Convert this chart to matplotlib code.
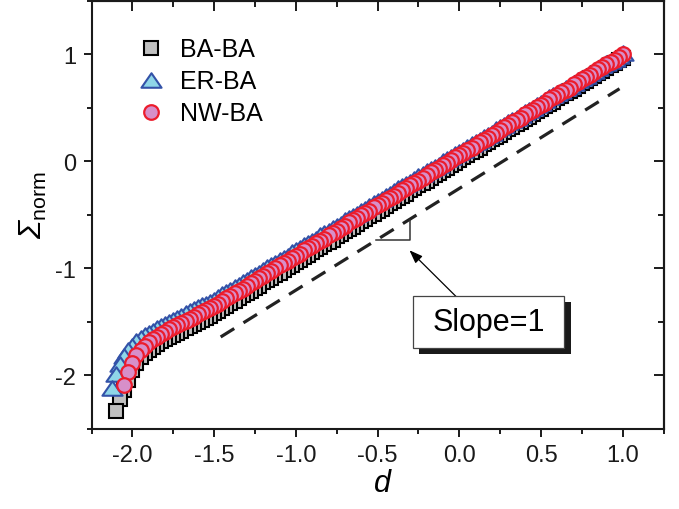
import matplotlib
matplotlib.use('Agg')
import matplotlib.pyplot as plt
import numpy as np
from matplotlib.path import Path
from matplotlib.patches import Rectangle
from matplotlib.ticker import MultipleLocator

plt.rcParams['font.family'] = ['Liberation Sans', 'DejaVu Sans']
plt.rcParams['mathtext.fontset'] = 'custom'
plt.rcParams['mathtext.rm'] = 'Liberation Sans'
plt.rcParams['mathtext.it'] = 'Liberation Sans:italic'
# mathtext forces Greek capitals upright in \mathit, so use sf slot for italic
plt.rcParams['mathtext.sf'] = 'Liberation Sans:italic'

# d sampled every 0.025 for each curve (start differs per series)
d_ba = np.round(np.arange(-2.1, 1.0001, 0.025), 3)
d_er = np.round(np.arange(-2.125, 1.0001, 0.025), 3)
d_nw = np.round(np.arange(-2.05, 1.0001, 0.025), 3)

sig_ba = [-2.33, -2.22, -2.14, -2.04, -1.95, -1.88, -1.83, -1.79,
          -1.76, -1.73, -1.71, -1.68, -1.66, -1.64, -1.62, -1.60, -1.58,
          -1.56, -1.54, -1.52, -1.50, -1.48, -1.46, -1.44, -1.42,
          -1.40, -1.37, -1.35, -1.32, -1.30, -1.28, -1.25, -1.23, -1.21, -1.18,
          -1.16, -1.13, -1.11, -1.09, -1.06, -1.04, -1.01, -0.99, -0.97, -0.94,
          -0.92, -0.89, -0.87, -0.85, -0.82, -0.80, -0.77, -0.75, -0.73, -0.70,
          -0.68, -0.65, -0.63, -0.61, -0.58, -0.56, -0.54, -0.51, -0.49, -0.46,
          -0.44, -0.42, -0.39, -0.37, -0.34, -0.32, -0.30, -0.27, -0.25, -0.22,
          -0.20, -0.18, -0.15, -0.13, -0.11, -0.08, -0.06, -0.03, -0.01, 0.01,
          0.04, 0.06, 0.09, 0.11, 0.13, 0.16, 0.18, 0.21, 0.23, 0.25,
          0.28, 0.30, 0.32, 0.35, 0.37, 0.40, 0.42, 0.44, 0.47, 0.49,
          0.52, 0.54, 0.56, 0.59, 0.61, 0.64, 0.66, 0.68, 0.71, 0.73,
          0.75, 0.78, 0.80, 0.83, 0.85, 0.87, 0.90, 0.92, 0.95, 0.97]

sig_er = [-2.12, -1.99, -1.89, -1.82, -1.76, -1.72, -1.68, -1.65, -1.62,
          -1.60, -1.58, -1.56, -1.54, -1.52, -1.50, -1.48, -1.46, -1.44,
          -1.42, -1.40, -1.38, -1.36, -1.34, -1.33, -1.31,
          -1.29, -1.27, -1.24, -1.22, -1.20, -1.17, -1.15, -1.13, -1.11, -1.08,
          -1.06, -1.04, -1.01, -0.99, -0.97, -0.95, -0.92, -0.90, -0.88, -0.85,
          -0.83, -0.81, -0.78, -0.76, -0.74, -0.72, -0.69, -0.67, -0.65, -0.62,
          -0.60, -0.58, -0.55, -0.53, -0.51, -0.49, -0.46, -0.44, -0.42, -0.39,
          -0.37, -0.35, -0.32, -0.30, -0.28, -0.25, -0.23, -0.21, -0.19, -0.16,
          -0.14, -0.12, -0.09, -0.07, -0.05, -0.03, 0.00, 0.02, 0.04, 0.07,
          0.09, 0.11, 0.14, 0.16, 0.18, 0.20, 0.23, 0.25, 0.27, 0.30,
          0.32, 0.34, 0.37, 0.39, 0.41, 0.43, 0.46, 0.48, 0.50, 0.53,
          0.55, 0.57, 0.60, 0.62, 0.64, 0.66, 0.69, 0.71, 0.73, 0.76,
          0.78, 0.80, 0.83, 0.85, 0.87, 0.90, 0.92, 0.94, 0.96, 0.99, 1.01]

sig_nw = [-2.09, -1.97, -1.88, -1.81, -1.76, -1.72, -1.69, -1.66, -1.64,
          -1.61, -1.59, -1.57, -1.55, -1.53, -1.51, -1.49, -1.47, -1.45,
          -1.43, -1.41, -1.39, -1.37, -1.35,
          -1.33, -1.30, -1.28, -1.26, -1.23, -1.21, -1.19, -1.16, -1.14, -1.12,
          -1.09, -1.07, -1.04, -1.02, -1.00, -0.97, -0.95, -0.93, -0.90, -0.88,
          -0.86, -0.83, -0.81, -0.79, -0.76, -0.74, -0.72, -0.69, -0.67, -0.65,
          -0.62, -0.60, -0.57, -0.55, -0.53, -0.50, -0.48, -0.46, -0.43, -0.41,
          -0.39, -0.36, -0.34, -0.32, -0.29, -0.27, -0.25, -0.22, -0.20, -0.18,
          -0.15, -0.13, -0.10, -0.08, -0.06, -0.03, -0.01, 0.01, 0.04, 0.06,
          0.08, 0.11, 0.13, 0.15, 0.18, 0.20, 0.22, 0.25, 0.27, 0.29,
          0.32, 0.34, 0.37, 0.39, 0.41, 0.44, 0.46, 0.48, 0.51, 0.53,
          0.55, 0.58, 0.60, 0.62, 0.65, 0.67, 0.69, 0.72, 0.74, 0.77,
          0.79, 0.81, 0.84, 0.86, 0.88, 0.91, 0.93, 0.95, 0.98, 1.00]

labels = ['BA-BA', 'ER-BA', 'NW-BA']

# slope-1 guide line, little right-angle mark and arrow
guide_d = [-1.46, 0.98]
guide_y = [-1.64, 0.68]
mark_d = [-0.51, -0.30, -0.30]
mark_y = [-0.735, -0.735, -0.545]
arrow_tail = (-0.018, -1.265)
arrow_head = (-0.305, -0.83)

tri = Path([(-1, -0.72), (1, -0.72), (0, 0.72), (-1, -0.72)],
           [Path.MOVETO, Path.LINETO, Path.LINETO, Path.CLOSEPOLY])

fig = plt.figure(figsize=(6.79, 5.10), dpi=100)
ax = fig.add_axes([0.1348, 0.1569, 0.8426, 0.8392])

l1, = ax.plot(d_ba[::-1], sig_ba[::-1], ls='none', marker='s', ms=10,
              mfc='#c0c0c0', mec='black', mew=1.5, label=labels[0], zorder=3)
l2, = ax.plot(d_er[::-1], sig_er[::-1], ls='none', marker=tri, ms=14.5,
              mfc='#8fd6e8', mec='#3352a8', mew=1.5, label=labels[1], zorder=3)
l3, = ax.plot(d_nw[::-1], sig_nw[::-1], ls='none', marker='o', ms=10.5,
              mfc='#d78fc9', mec='#ec1c2c', mew=1.6, label=labels[2], zorder=3)

ax.plot(guide_d, guide_y, color='#222222', lw=2.3, ls=(0, (5, 3.4)), zorder=2)
ax.plot(mark_d, mark_y, color='#333333', lw=1.1, zorder=2)
ax.annotate('', xy=arrow_head, xytext=arrow_tail,
            arrowprops=dict(arrowstyle='-|>,head_length=0.8,head_width=0.3',
                            mutation_scale=10, color='black', lw=0.9,
                            shrinkA=0, shrinkB=0))

# text box with drop shadow
ax.add_patch(Rectangle((0.5729, 0.1753), 0.265, 0.1222, transform=ax.transAxes,
                       fc='#1a1a1a', ec='none', zorder=4))
ax.add_patch(Rectangle((0.5614, 0.1893), 0.265, 0.1222, transform=ax.transAxes,
                       fc='white', ec='#444444', lw=0.9, zorder=5))
ax.text(0.6939, 0.2504, 'Slope=1', transform=ax.transAxes, ha='center',
        va='center', fontsize=22, zorder=6)

ax.set_xlim(-2.25, 1.25)
ax.set_ylim(-2.5, 1.5)
ax.xaxis.set_major_locator(MultipleLocator(0.5))
ax.xaxis.set_minor_locator(MultipleLocator(0.25))
ax.yaxis.set_major_locator(MultipleLocator(1))
ax.yaxis.set_minor_locator(MultipleLocator(0.5))
ax.xaxis.set_major_formatter(matplotlib.ticker.FormatStrFormatter('%.1f'))
ax.yaxis.set_major_formatter(matplotlib.ticker.FormatStrFormatter('%d'))

for s in ax.spines.values():
    s.set_linewidth(1.5)
    s.set_color('#1a1a1a')
ax.tick_params(which='both', direction='out', width=1.4, labelsize=17,
               colors='#1a1a1a', pad=5)
ax.tick_params(which='major', length=6)
ax.tick_params(which='minor', length=3.5)

top = ax.secondary_xaxis('top')
top.xaxis.set_major_locator(MultipleLocator(0.5))
top.xaxis.set_minor_locator(MultipleLocator(0.25))
right = ax.secondary_yaxis('right')
right.yaxis.set_major_locator(MultipleLocator(1))
right.yaxis.set_minor_locator(MultipleLocator(0.5))
for sec in (top, right):
    sec.tick_params(which='both', direction='in', width=1.4, labelsize=0,
                    colors='#1a1a1a')
    sec.tick_params(which='major', length=7)
    sec.tick_params(which='minor', length=4.5)
    for s in sec.spines.values():
        s.set_linewidth(1.5)
top.set_xticklabels([])
right.set_yticklabels([])

ax.set_xlabel('d', fontsize=22, fontstyle='italic')
ax.xaxis.set_label_coords(0.508, -0.092)
ax.set_ylabel(r'$\mathsf{Σ}_{\mathrm{norm}}$', fontsize=22)
ax.yaxis.set_label_coords(-0.075, 0.526)

ax.legend(handles=[l1, l2, l3], loc='upper left', bbox_to_anchor=(0.0813, 0.915),
          frameon=False, fontsize=18, numpoints=1, handlelength=1.0,
          handletextpad=0.68, labelspacing=0.32, borderpad=0, borderaxespad=0)

fig.savefig('out.png', dpi=100)
